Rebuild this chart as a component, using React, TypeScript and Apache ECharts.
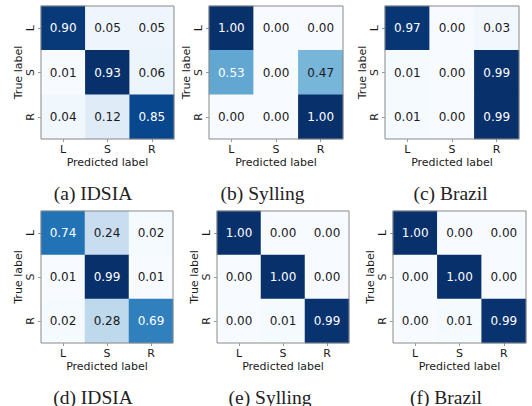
import React, { useEffect, useRef } from "react";
import * as echarts from "echarts";

const classes = ["L", "S", "R"];

const matrixA = [
  [0.9, 0.05, 0.05],
  [0.01, 0.93, 0.06],
  [0.04, 0.12, 0.85],
];
const matrixB = [
  [1.0, 0.0, 0.0],
  [0.53, 0.0, 0.47],
  [0.0, 0.0, 1.0],
];
const matrixC = [
  [0.97, 0.0, 0.03],
  [0.01, 0.0, 0.99],
  [0.01, 0.0, 0.99],
];
const matrixD = [
  [0.74, 0.24, 0.02],
  [0.01, 0.99, 0.01],
  [0.02, 0.28, 0.69],
];
const matrixE = [
  [1.0, 0.0, 0.0],
  [0.0, 1.0, 0.0],
  [0.0, 0.01, 0.99],
];
const matrixF = [
  [1.0, 0.0, 0.0],
  [0.0, 1.0, 0.0],
  [0.0, 0.01, 0.99],
];

const captions = ["(a) IDSIA", "(b) Sylling", "(c) Brazil", "(d) IDSIA", "(e) Sylling", "(f) Brazil"];

const matrices = [matrixA, matrixB, matrixC, matrixD, matrixE, matrixF];

// layout (positions only)
const GRIDS = [
  { left: 41, top: 6, width: 133, height: 133 },
  { left: 209, top: 6, width: 134, height: 133 },
  { left: 385, top: 6, width: 134, height: 133 },
  { left: 41, top: 211, width: 132, height: 132 },
  { left: 217, top: 211, width: 132, height: 132 },
  { left: 393, top: 211, width: 133, height: 132 },
];
const CAPTION_POS = [
  [93, 193],
  [262.5, 193],
  [450.5, 193],
  [93, 397],
  [270, 397],
  [446, 397],
];

const BLUES = ["#f7fbff", "#deebf7", "#c6dbef", "#9ecae1", "#6baed6", "#4292c6", "#2171b5", "#08519c", "#08306b"];

const SANS = "DejaVu Sans";
const DARK = "#1a1a1a";

export default function App() {
  const ref = useRef<HTMLDivElement>(null);

  useEffect(() => {
    if (!ref.current) return;
    const chart = echarts.init(ref.current, undefined, { renderer: "svg" });

    const grid = GRIDS.map((g) => ({ ...g, containLabel: false }));

    const xAxis = matrices.map((_, i) => ({
      type: "category",
      gridIndex: i,
      data: classes,
      position: "bottom",
      axisLine: { show: false },
      axisTick: { show: true, alignWithLabel: true, length: 3, lineStyle: { color: "#999", width: 1 } },
      axisLabel: { margin: 5, fontSize: 11, color: DARK, fontFamily: SANS },
      splitLine: { show: false },
      name: "Predicted label",
      nameLocation: "middle",
      nameGap: 18,
      nameTextStyle: { fontSize: 11, color: DARK, fontFamily: SANS },
    }));

    const yAxis = matrices.map((_, i) => ({
      type: "category",
      gridIndex: i,
      data: classes,
      inverse: true,
      axisLine: { show: false },
      axisTick: { show: true, alignWithLabel: true, length: 3, lineStyle: { color: "#999", width: 1 } },
      axisLabel: { margin: 5, fontSize: 11, color: DARK, fontFamily: SANS, rotate: 90 },
      splitLine: { show: false },
      name: "True label",
      nameLocation: "middle",
      nameGap: 17,
      nameTextStyle: { fontSize: 11, color: DARK, fontFamily: SANS },
    }));

    const visualMap = matrices.map((m, i) => {
      const flat = m.flat();
      return {
        type: "continuous",
        show: false,
        seriesIndex: i,
        dimension: 2,
        min: Math.min(...flat),
        max: Math.max(...flat),
        inRange: { color: BLUES },
      };
    });

    const series = matrices.map((m, i) => {
      const flat = m.flat();
      const thresh = (Math.max(...flat) + Math.min(...flat)) / 2;
      return {
        type: "heatmap",
        xAxisIndex: i,
        yAxisIndex: i,
        data: m.flatMap((row, r) =>
          row.map((v, c) => ({
            value: [c, r, v],
            label: { color: v > thresh ? "#ffffff" : DARK },
          }))
        ),
        label: {
          show: true,
          fontSize: 12,
          fontFamily: SANS,
          formatter: (p: any) => Number(p.value[2]).toFixed(2),
        },
        itemStyle: { borderWidth: 0 },
        emphasis: { disabled: true },
      };
    });

    const graphic: any[] = [
      ...GRIDS.map((g) => ({
        type: "rect",
        z: 100,
        silent: true,
        shape: { x: g.left, y: g.top, width: g.width, height: g.height },
        style: { fill: "none", stroke: "#8a8a8a", lineWidth: 1 },
      })),
      ...captions.map((t, i) => ({
        type: "text",
        x: CAPTION_POS[i][0],
        y: CAPTION_POS[i][1],
        style: {
          text: t,
          font: '19.5px "Liberation Serif"',
          fill: "#222",
          align: "center",
          verticalAlign: "middle",
          textAlign: "center",
          textVerticalAlign: "middle",
        },
      })),
    ];

    chart.setOption({
      animation: false,
      backgroundColor: "#ffffff",
      textStyle: { fontFamily: SANS },
      grid,
      xAxis,
      yAxis,
      visualMap,
      series,
      graphic,
    } as any);

    return () => chart.dispose();
  }, []);

  return (
    <div
      ref={ref}
      style={{ position: "absolute", left: 0, top: 0, width: 532, height: 406 }}
    />
  );
}
